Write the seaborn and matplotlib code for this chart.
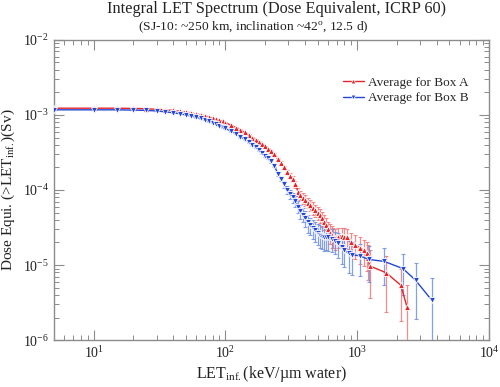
import numpy as np
import pandas as pd
import matplotlib
matplotlib.use("Agg")
import matplotlib.pyplot as plt
import seaborn as sns
from matplotlib.ticker import LogLocator, NullFormatter

# ---------------- data ----------------
let_a = [5, 10, 15, 20, 25, 30, 35, 40, 45, 50, 55, 60, 65, 70, 75, 80, 85, 90, 95, 100,
         110, 120, 130, 140, 150, 160, 170, 180, 190, 200, 210, 220, 235, 250, 265, 280,
         295, 310, 325, 340, 355, 370, 385, 400, 420, 440, 460, 480, 500, 520, 540, 560,
         580, 600, 620, 640, 660, 680, 720, 760, 800, 840, 900, 960, 1050, 1125, 1184,
         1205, 1253, 1660, 2140, 2390]
dose_a = [1.23e-3, 1.23e-3, 1.23e-3, 1.22e-3, 1.21e-3, 1.19e-3, 1.17e-3, 1.15e-3, 1.12e-3,
          1.09e-3, 1.06e-3, 1.03e-3, 1.0e-3, 9.7e-4, 9.4e-4, 9.1e-4, 8.8e-4, 8.5e-4, 8.2e-4,
          7.9e-4, 7.3e-4, 6.8e-4, 6.3e-4, 5.85e-4, 5.4e-4, 5.0e-4, 4.7e-4, 4.35e-4, 4.05e-4,
          3.8e-4, 3.55e-4, 3.35e-4, 3.0e-4, 2.6e-4, 2.3e-4, 2.0e-4, 1.75e-4, 1.55e-4, 1.4e-4,
          1.2e-4, 9.5e-5, 8.5e-5, 7.8e-5, 7.4e-5, 6.8e-5, 6.3e-5, 5.8e-5, 5.4e-5, 5.0e-5,
          4.6e-5, 4.2e-5, 3.8e-5, 3.4e-5, 3.0e-5, 2.7e-5, 2.5e-5, 2.4e-5, 2.3e-5, 2.4e-5,
          2.45e-5, 2.4e-5, 2.35e-5, 2.0e-5, 1.85e-5, 1.7e-5, 1.58e-5, 1.43e-5, 1.23e-5,
          9.7e-6, 7.9e-6, 5.4e-6, 2.75e-6]
err_a = [1e-5, 1e-5, 1e-5, 1e-5, 1e-5, 1e-5, 1e-5, 1e-5, 1e-5, 1e-5, 1e-5, 1e-5, 1e-5, 1e-5,
         1e-5, 1e-5, 1e-5, 1e-5, 1e-5, 1e-5, 1e-5, 1e-5, 1e-5, 1e-5, 1e-5, 1e-5, 1e-5, 1e-5,
         1e-5, 1e-5, 1e-5, 1e-5, 1e-5, 1e-5, 1e-5, 1e-5, 1.2e-5, 1.2e-5, 1.2e-5, 1.2e-5,
         1.2e-5, 1.2e-5, 1.2e-5, 1.2e-5, 1.1e-5, 1.1e-5, 1.1e-5, 1.0e-5, 1.0e-5, 1.0e-5,
         9e-6, 9e-6, 8e-6, 8e-6, 8e-6, 8e-6, 7e-6, 7e-6, 7e-6, 7e-6, 7e-6, 7e-6, 6.5e-6,
         6.5e-6, 6.5e-6, 6e-6, 6e-6, 6e-6, 6e-6, 5.5e-6, 3.6e-6, 2.65e-6]

let_b = [5, 10, 15, 20, 25, 30, 35, 40, 45, 50, 55, 60, 65, 70, 75, 80, 85, 90, 95, 100,
         110, 120, 130, 140, 150, 160, 170, 180, 190, 200, 210, 220, 235, 250, 265, 280,
         295, 310, 325, 340, 355, 370, 385, 400, 420, 440, 460, 480, 500, 520, 540, 560,
         580, 600, 640, 680, 720, 760, 800, 860, 920, 1054, 1222, 1600, 2220, 2770, 3680]
dose_b = [1.17e-3, 1.17e-3, 1.17e-3, 1.16e-3, 1.15e-3, 1.13e-3, 1.10e-3, 1.07e-3, 1.04e-3,
          1.0e-3, 9.7e-4, 9.3e-4, 9.0e-4, 8.6e-4, 8.2e-4, 7.9e-4, 7.6e-4, 7.2e-4, 6.9e-4,
          6.6e-4, 6.1e-4, 5.6e-4, 5.1e-4, 4.8e-4, 4.35e-4, 4.0e-4, 3.7e-4, 3.4e-4, 3.1e-4,
          2.85e-4, 2.65e-4, 2.4e-4, 2.1e-4, 1.65e-4, 1.4e-4, 1.2e-4, 1.0e-4, 8.8e-5, 8.0e-5,
          7.2e-5, 6.0e-5, 5.2e-5, 4.7e-5, 4.2e-5, 3.7e-5, 3.4e-5, 3.1e-5, 2.9e-5, 2.7e-5,
          2.55e-5, 2.45e-5, 2.35e-5, 2.4e-5, 2.35e-5, 2.25e-5, 2.1e-5, 1.95e-5, 1.75e-5,
          1.6e-5, 1.43e-5, 1.38e-5, 1.32e-5, 1.19e-5, 1.12e-5, 9.0e-6, 6.3e-6, 3.4e-6]
err_b = [1e-5, 1e-5, 1e-5, 1e-5, 1e-5, 1e-5, 1e-5, 1e-5, 1e-5, 1e-5, 1e-5, 1e-5, 1e-5, 1e-5,
         1e-5, 1e-5, 1e-5, 1e-5, 1e-5, 1e-5, 1e-5, 1e-5, 1e-5, 1e-5, 1e-5, 1e-5, 1e-5, 1e-5,
         1e-5, 1e-5, 1e-5, 1e-5, 1e-5, 1e-5, 1e-5, 1.2e-5, 1.2e-5, 1.2e-5, 1.2e-5, 1.2e-5,
         1.1e-5, 1.1e-5, 1.0e-5, 1.0e-5, 1.0e-5, 9e-6, 9e-6, 9e-6, 8.5e-6, 8.5e-6, 8e-6,
         8e-6, 8e-6, 8e-6, 7.5e-6, 7e-6, 7e-6, 7e-6, 6.5e-6, 6.5e-6, 6.5e-6, 6e-6, 6e-6,
         5.7e-6, 5e-6, 4.4e-6, 3.3e-6]

series_names = ["Average for Box A", "Average for Box B"]
colors = {"Average for Box A": "#e3262b", "Average for Box B": "#2447d6"}
err_colors = {"Average for Box A": "#ee7a7a", "Average for Box B": "#6f8fe2"}

df = pd.concat([
    pd.DataFrame({"LET": let_a, "Dose": dose_a, "err": err_a, "Series": series_names[0]}),
    pd.DataFrame({"LET": let_b, "Dose": dose_b, "err": err_b, "Series": series_names[1]}),
], ignore_index=True)

# ---------------- style ----------------
sns.set_style("ticks")
plt.rcParams["font.family"] = ["Liberation Serif", "DejaVu Serif"]
plt.rcParams["mathtext.fontset"] = "custom"
plt.rcParams["mathtext.rm"] = "Liberation Serif"
plt.rcParams["mathtext.it"] = "Liberation Serif:italic"
plt.rcParams["mathtext.bf"] = "Liberation Serif:bold"

fig = plt.figure(figsize=(5.0, 3.87), dpi=100)
ax = fig.add_axes([0.108, 0.121, 0.870, 0.776])

ax.set_xscale("log")
ax.set_yscale("log")

# error bars
for name in series_names:
    sub = df[df["Series"] == name]
    ax.errorbar(sub["LET"], sub["Dose"], yerr=sub["err"], fmt="none",
                ecolor=err_colors[name], elinewidth=0.9, capsize=1.5, capthick=0.8,
                alpha=0.85, zorder=2)

sns.lineplot(data=df, x="LET", y="Dose", hue="Series", style="Series",
             palette=colors, markers={series_names[0]: "^", series_names[1]: "v"},
             dashes=False, markersize=4.5, markeredgewidth=0.6, linewidth=1.0,
             sort=False, estimator=None, ax=ax, zorder=3)

ax.set_xlim(5, 1e4)
ax.set_ylim(1e-6, 1e-2)

ax.xaxis.set_major_locator(LogLocator(base=10, numticks=10))
ax.yaxis.set_major_locator(LogLocator(base=10, numticks=10))
ax.xaxis.set_minor_locator(LogLocator(base=10, subs=np.arange(2, 10), numticks=20))
ax.yaxis.set_minor_locator(LogLocator(base=10, subs=np.arange(2, 10), numticks=20))
ax.xaxis.set_minor_formatter(NullFormatter())
ax.yaxis.set_minor_formatter(NullFormatter())

grey = "#8c8c8c"
for sp in ax.spines.values():
    sp.set_visible(True)
    sp.set_color(grey)
    sp.set_linewidth(1.0)
ax.tick_params(which="both", direction="in", top=True, right=True, color=grey,
               labelsize=10, labelcolor="#222222")
ax.tick_params(which="major", length=7, width=0.8)
ax.tick_params(which="minor", length=3.5, width=0.7)

ax.set_xlabel(r"LET$_{\mathrm{inf.}}$(keV/µm water)", fontsize=11.5, color="#222222", labelpad=2)
ax.set_ylabel(r"Dose Equi. (>LET$_{\mathrm{inf.}}$)(Sv)", fontsize=11, color="#222222", labelpad=4)

fig.text(0.553, 0.977, "Integral LET Spectrum (Dose Equivalent, ICRP 60)",
         ha="center", va="center", fontsize=11.7, color="#222222")
fig.text(0.507, 0.929, r"(SJ-10: ~250 km, inclination ~42$^{\mathrm{o}}$, 12.5 d)",
         ha="center", va="center", fontsize=9.7, color="#222222")

leg = ax.legend(loc="center right", bbox_to_anchor=(0.965, 0.832), frameon=False,
                fontsize=9.5, handlelength=1.6, handletextpad=0.3, labelspacing=0.25,
                borderaxespad=0)
for h in leg.legend_handles:
    h.set_markersize(3.5)

fig.savefig("out.png", dpi=100)
